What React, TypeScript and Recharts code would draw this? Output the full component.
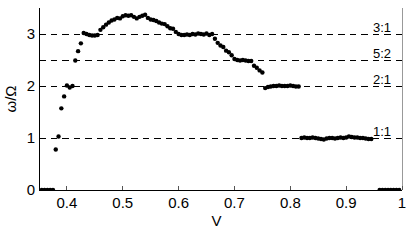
import { ScatterChart, Scatter, XAxis, YAxis, ReferenceLine } from 'recharts'

const V = [
  0.355, 0.36, 0.365, 0.37, 0.375, 0.38, 0.385, 0.39, 0.395, 0.4,
  0.405, 0.41, 0.415, 0.42, 0.425, 0.43, 0.435, 0.44, 0.445, 0.45,
  0.455, 0.46, 0.465, 0.47, 0.475, 0.48, 0.485, 0.49, 0.495, 0.5,
  0.505, 0.51, 0.515, 0.52, 0.525, 0.53, 0.535, 0.54, 0.545, 0.55,
  0.555, 0.56, 0.565, 0.57, 0.575, 0.58, 0.585, 0.59, 0.595, 0.6,
  0.605, 0.61, 0.615, 0.62, 0.625, 0.63, 0.635, 0.64, 0.645, 0.65,
  0.655, 0.66, 0.665, 0.67, 0.675, 0.68, 0.685, 0.69, 0.695, 0.7,
  0.705, 0.71, 0.715, 0.72, 0.725, 0.73, 0.735, 0.74, 0.745, 0.75,
  0.755, 0.76, 0.765, 0.77, 0.775, 0.78, 0.785, 0.79, 0.795, 0.8,
  0.805, 0.81, 0.815, 0.82, 0.825, 0.83, 0.835, 0.84, 0.845, 0.85,
  0.855, 0.86, 0.865, 0.87, 0.875, 0.88, 0.885, 0.89, 0.895, 0.9,
  0.905, 0.91, 0.915, 0.92, 0.925, 0.93, 0.935, 0.94, 0.945,
  0.96, 0.965, 0.97, 0.975, 0.98, 0.985, 0.99, 0.995,
]
const W = [
  0, 0, 0, 0, 0, 0.78, 1.03, 1.57, 1.8, 2.01,
  1.97, 2.0, 2.49, 2.67, 2.82, 3.02, 3.0, 2.98, 2.97, 2.97,
  2.98, 3.08, 3.13, 3.18, 3.22, 3.26, 3.28, 3.31, 3.3, 3.34,
  3.36, 3.35, 3.36, 3.33, 3.3, 3.33, 3.35, 3.37, 3.31, 3.28,
  3.27, 3.25, 3.22, 3.2, 3.19, 3.15, 3.11, 3.1, 3.04, 3.0,
  2.98, 2.98, 2.99, 2.98, 3.0, 2.99, 3.01, 3.0, 2.99, 3.01,
  2.98, 3.0, 2.91, 2.83, 2.78, 2.75, 2.68, 2.65, 2.59, 2.52,
  2.5, 2.49, 2.5, 2.49, 2.48, 2.48, 2.39, 2.35, 2.3, 2.26,
  1.96, 1.98, 1.99, 2.0, 2.0, 2.01, 2.0, 2.0, 2.0, 2.01,
  2.0, 1.99, 1.99, 1.0, 1.01, 1.0, 1.0, 1.01, 1.0, 0.99,
  0.98, 0.97, 0.99, 1.0, 1.0, 0.99, 1.0, 1.01, 1.0, 1.01,
  1.03, 1.02, 1.01, 1.01, 1.0, 1.0, 0.99, 0.98, 0.98,
  0, 0, 0, 0, 0, 0, 0, 0,
]

const X_TICKS = [0.4, 0.5, 0.6, 0.7, 0.8, 0.9, 1]
const Y_TICKS = [0, 1, 2, 3]
const LOCK_LEVELS = [3, 2.5, 2, 1]
const LOCK_LABELS = ['3:1', '5:2', '2:1', '1:1']

const data = V.map((v, i) => ({ v, w: W[i] }))

const FONT = '"Liberation Sans", Arial, Helvetica, sans-serif'

function BottomTick({ x, y, payload }: any) {
  const label = payload.value === 1 ? '1' : payload.value.toFixed(1)
  return (
    <g>
      <line x1={x} x2={x} y1={y} y2={y - 4} stroke="#555" shapeRendering="crispEdges" />
      <text x={x} y={y + 7} dy="0.71em" textAnchor="middle" fontSize={15} fill="#000" fontFamily={FONT}>
        {label}
      </text>
    </g>
  )
}

function TopTick({ x, y }: any) {
  return <line x1={x} x2={x} y1={y} y2={y + 4} stroke="#555" shapeRendering="crispEdges" />
}

export default function App() {
  return (
    <div style={{ position: 'absolute', left: 0, top: 0, width: 415, height: 240, background: '#fff' }}>
      <ScatterChart width={415} height={240} margin={{ top: 8, right: 13, left: 0, bottom: 0 }}>
        <XAxis
          dataKey="v"
          type="number"
          domain={[0.35, 1]}
          ticks={X_TICKS}
          allowDataOverflow
          height={50}
          tickSize={0}
          tickMargin={0}
          tickLine={false}
          tick={<BottomTick />}
          axisLine={{ stroke: '#000', shapeRendering: 'crispEdges' }}
          label={{
            content: ({ viewBox }: any) => (
              <text x={viewBox.x + viewBox.width / 2 - 4} y={viewBox.y + 36} textAnchor="middle" fontSize={15} fill="#000" fontFamily={FONT}>
                V
              </text>
            ),
          }}
        />
        <XAxis
          xAxisId="top"
          orientation="top"
          type="number"
          domain={[0.35, 1]}
          ticks={X_TICKS}
          allowDataOverflow
          height={0}
          tickSize={0}
          tickMargin={0}
          tickLine={false}
          tick={<TopTick />}
          axisLine={{ stroke: '#222', shapeRendering: 'crispEdges' }}
        />
        <YAxis
          dataKey="w"
          type="number"
          domain={[0, 3.5]}
          ticks={Y_TICKS}
          allowDataOverflow
          width={39}
          tickSize={0}
          tickMargin={4}
          tickLine={false}
          axisLine={{ stroke: '#000', shapeRendering: 'crispEdges' }}
          tick={{ fontSize: 15, fill: '#000', fontFamily: FONT }}
          label={{
            content: ({ viewBox }: any) => {
              const cx = viewBox.x + 16
              const cy = viewBox.y + viewBox.height / 2
              return (
                <text x={cx} y={cy} transform={`rotate(-90, ${cx}, ${cy})`} textAnchor="middle" fontSize={15} fill="#000" fontFamily={FONT}>
                  ω/Ω
                </text>
              )
            },
          }}
        />
        <ReferenceLine x={1} stroke="#999" shapeRendering="crispEdges" />
        {LOCK_LEVELS.map((lvl, i) => (
          <ReferenceLine
            key={lvl}
            y={lvl}
            stroke="#000"
            strokeDasharray="6.5 5"
            shapeRendering="crispEdges"
            label={{
              content: ({ viewBox }: any) => (
                <text x={viewBox.x + viewBox.width - 29} y={viewBox.y - 2} fontSize={13} fill="#000" fontFamily={FONT}>
                  {LOCK_LABELS[i]}
                </text>
              ),
            }}
          />
        ))}
        <Scatter
          data={data}
          isAnimationActive={false}
          shape={(p: any) => <circle cx={p.cx} cy={p.cy} r={2.2} fill="#000" />}
        />
      </ScatterChart>
    </div>
  )
}
